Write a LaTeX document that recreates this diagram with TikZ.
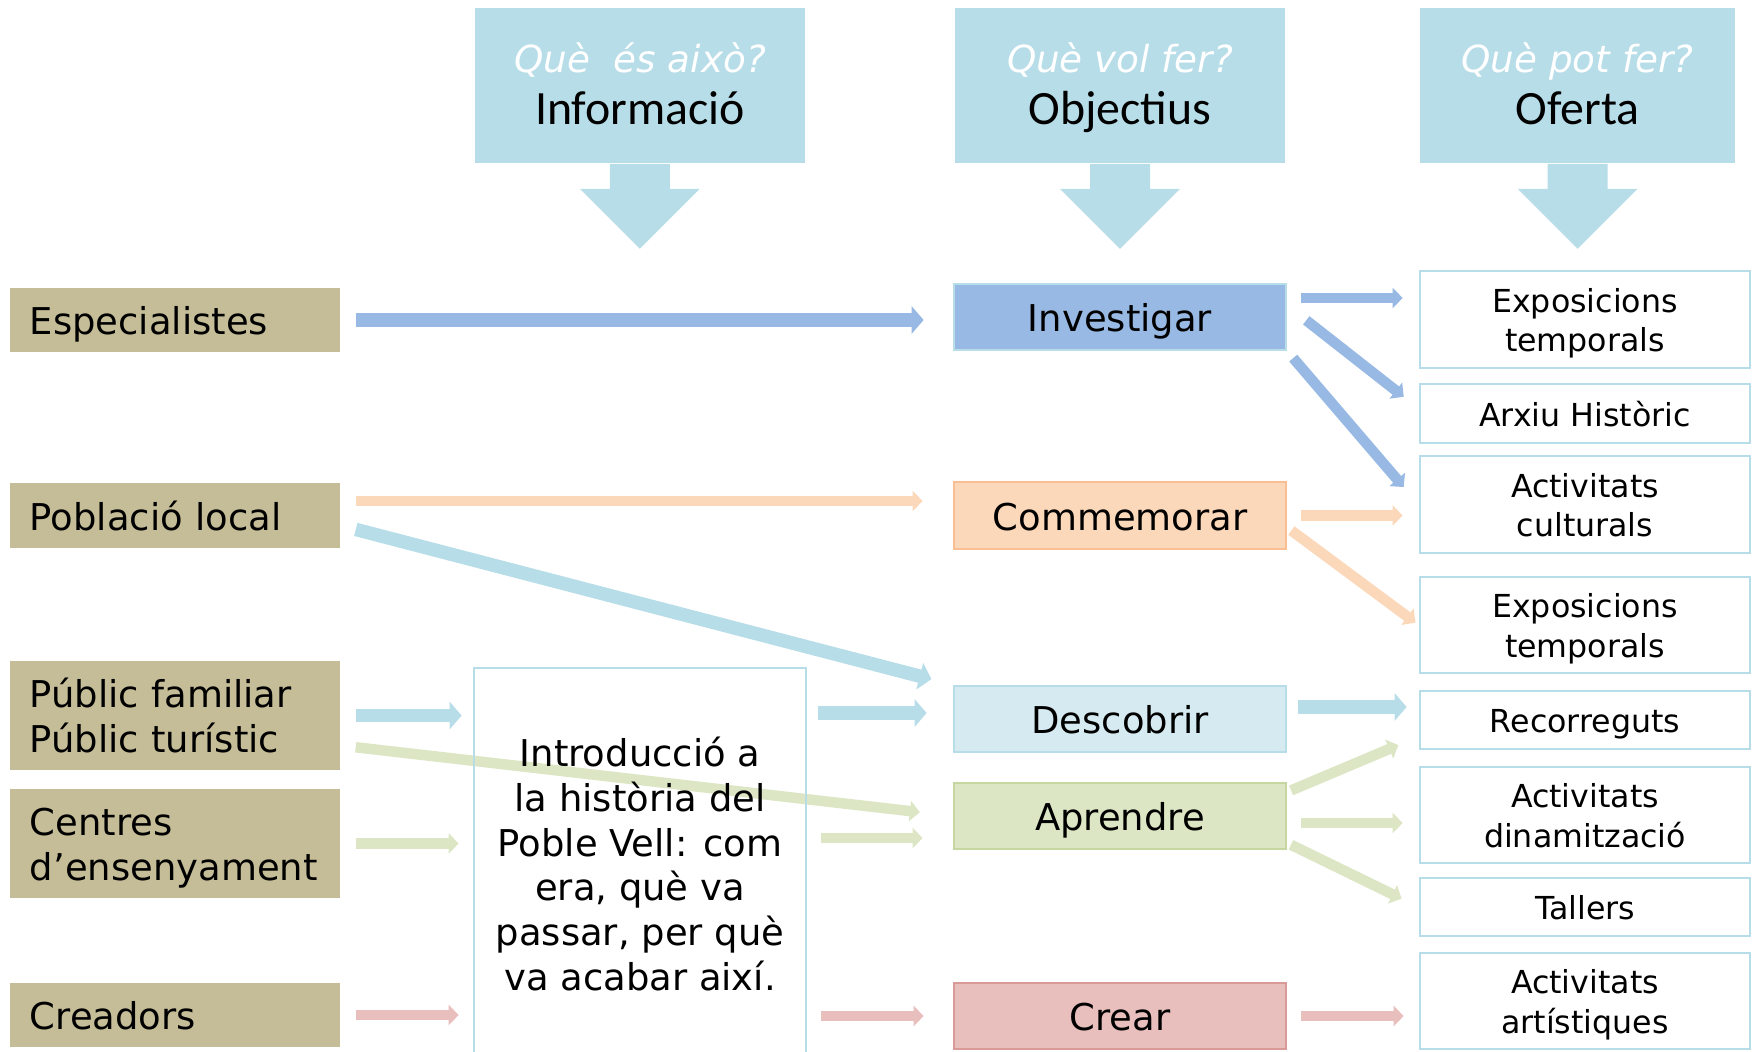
\documentclass[tikz,border=0pt]{standalone}
\usepackage{fontspec}
\setmainfont{DejaVu Sans}
\newfontfamily\calibrifont{Carlito}
\usetikzlibrary{arrows.meta,backgrounds}

\definecolor{hdrblue}{HTML}{B7DDE8}
\definecolor{whofill}{HTML}{C4BD97}
\definecolor{investfill}{HTML}{98B9E3}
\definecolor{commemfill}{HTML}{FCD8BA}
\definecolor{commemline}{HTML}{F9BE91}
\definecolor{descobfill}{HTML}{D5EBF1}
\definecolor{aprenfill}{HTML}{DCE6C4}
\definecolor{aprenline}{HTML}{C6D89F}
\definecolor{crearfill}{HTML}{E8BFBD}
\definecolor{crearline}{HTML}{DA9A98}
\definecolor{arrblue}{HTML}{98B9E3}
\definecolor{arrpeach}{HTML}{FCD8BA}
\definecolor{arrsky}{HTML}{B7DDE8}
\definecolor{arrgreen}{HTML}{DCE6C4}
\definecolor{arrpink}{HTML}{E8BFBD}

\newcommand{\boxfont}{\fontsize{10.5}{12.7}\selectfont}
\newcommand{\offerfont}{\fontsize{9}{11.2}\selectfont}
\newcommand{\askfont}{\rmfamily\itshape\fontsize{10.6}{15}\selectfont}
\newcommand{\headfont}{\calibrifont\fontsize{13.6}{15}\selectfont}
% struts so that every label sits at the same height in its box
\newcommand{\tup}{\rule{0pt}{1.05em}}
\newcommand{\tdown}{\rule[-0.25em]{0pt}{0.25em}}
\newcommand{\hup}{\rule{0pt}{10.5pt}}
\newcommand{\hdown}{\rule[-3.1pt]{0pt}{3.1pt}}

\tikzstyle{head} = [fill=hdrblue,minimum width=3.3cm,minimum height=1.55cm,inner ysep=0pt,align=center,font=\headfont,
	execute at end node=\hdown]
\tikzstyle{who} = [fill=whofill,text width=2.9cm,inner xsep=0.2cm,inner ysep=0pt,align=left,font=\boxfont,
	execute at begin node=\tup,execute at end node=\tdown]
\tikzstyle{aim} = [draw,line width=0.025cm,minimum width=3.32cm,minimum height=0.66cm,inner ysep=0pt,font=\boxfont,
	execute at begin node=\tup,execute at end node=\tdown]
\tikzstyle{offer} = [draw=hdrblue,line width=0.025cm,minimum width=3.3cm,inner ysep=0pt,align=center,font=\offerfont,
	execute at begin node=\tup,execute at end node=\tdown]
\tikzstyle{fat} = [line width=0.135cm,-{Triangle[width=0.27cm,length=0.12cm]}]
\tikzstyle{slim} = [line width=0.105cm,-{Triangle[width=0.2cm,length=0.1cm]}]

\begin{document}
\begin{tikzpicture}[x=0.01cm,y=-0.01cm]

	\useasboundingbox (0,0) rectangle (1755,1051);

	% headers
	\node (info) [head] at (640,85.5) {\hup{\askfont\color{white}Què\ \ és això?}\\Informació};
	\node (aims) [head] at (1120,85.5) {\hup{\askfont\color{white}Què vol fer?}\\Objectius};
	\node (offer) [head,minimum width=3.15cm] at (1577.5,85.5) {\hup{\askfont\color{white}Què pot fer?}\\Oferta};
	\foreach \h in {info,aims,offer}
		\fill[hdrblue] ([xshift=-0.3cm]\h.south) -- ++(0,25) -- ++(-30,0) -- ++(60,60) -- ++(60,-60) -- ++(-30,0) -- ++(0,-25) -- cycle;

	% who
	\node (espec) [who,minimum height=0.64cm] at (175,320) {Especialistes};
	\node (pobl) [who,minimum height=0.65cm] at (175,515.5) {Població local};
	\node (public) [who,minimum height=1.09cm] at (175,715.5) {\tup Públic familiar\\Públic turístic};
	\node (centres) [who,minimum height=1.09cm] at (175,843.5) {\tup Centres\\d’ensenyament};
	\node (creadors) [who,minimum height=0.64cm] at (175,1015) {Creadors};

	\node (intro) [draw=hdrblue,line width=0.025cm,minimum width=3.32cm,minimum height=3.92cm,align=center,font=\boxfont] at (640,864)
		{Introducció a\\la història del\\Poble Vell: com\\era, què va\\passar, per què\\va acabar així.};

	% aims
	\node (invest) [aim,draw=hdrblue,fill=investfill] at (1120,317) {Investigar};
	\node (commem) [aim,draw=commemline,fill=commemfill,minimum height=0.67cm] at (1120,515.5) {Commemorar};
	\node (descob) [aim,draw=hdrblue,fill=descobfill] at (1120,719) {Descobrir};
	\node (aprendre) [aim,draw=aprenline,fill=aprenfill] at (1120,816) {Aprendre};
	\node (crear) [aim,draw=crearline,fill=crearfill] at (1120,1016) {Crear};

	% offer
	\node (expo1) [offer,minimum height=0.97cm] at (1585,319.5) {\tup Exposicions\\temporals};
	\node (arxiu) [offer,minimum height=0.59cm] at (1585,413.5) {Arxiu Històric};
	\node (actcult) [offer,minimum height=0.97cm] at (1585,504.5) {\tup Activitats\\culturals};
	\node (expo2) [offer,minimum height=0.96cm] at (1585,625) {\tup Exposicions\\temporals};
	\node (recorr) [offer,minimum height=0.58cm] at (1585,720) {Recorreguts};
	\node (actdin) [offer,minimum height=0.96cm] at (1585,815) {\tup Activitats\\dinamització};
	\node (tallers) [offer,minimum height=0.58cm] at (1585,907) {Tallers};
	\node (actart) [offer,minimum height=0.96cm] at (1585,1001) {\tup Activitats\\artístiques};

	\begin{pgfonlayer}{background}
	\path
		(espec.east) edge[fat,arrblue,shorten <=0.15cm,shorten >=0.29cm] (espec.east -| invest.west)
		([yshift=0.145cm]pobl.east) edge[slim,arrpeach,shorten <=0.15cm,shorten >=0.3cm] ([yshift=0.145cm]commem.west)
		([yshift=-0.1cm]pobl.east) edge[fat,arrsky,shorten <=0.155cm,shorten >=0.22cm] (descob.north west)

		(public.east) edge[fat,arrsky,shorten <=0.15cm,shorten >=0.11cm] (public.east -| intro.west)
		([yshift=-0.3cm]public.east) edge[slim,arrgreen,shorten <=0.15cm,shorten >=0.33cm] (aprendre.west)
		(centres.east) edge[slim,arrgreen,shorten <=0.15cm,shorten >=0.14cm] (centres.east -| intro.west)
		(creadors.east) edge[slim,arrpink,shorten <=0.15cm,shorten >=0.14cm] (creadors.east -| intro.west)

		([yshift=0.06cm]descob.west -| intro.east) edge[fat,arrsky,shorten <=0.11cm,shorten >=0.26cm] ([yshift=0.06cm]descob.west)
		([yshift=-0.22cm]aprendre.west -| intro.east) edge[slim,arrgreen,shorten <=0.14cm,shorten >=0.3cm] ([yshift=-0.22cm]aprendre.west)
		(crear.west -| intro.east) edge[slim,arrpink,shorten <=0.14cm,shorten >=0.29cm] (crear.west)

		([yshift=0.19cm]invest.east) edge[slim,arrblue,shorten <=0.14cm,shorten >=0.16cm] ([yshift=0.19cm]invest.east -| expo1.west)
		([yshift=0.115cm]invest.east) edge[slim,arrblue,shorten <=0.24cm,shorten >=0.19cm] ([yshift=0.05cm]arxiu.west)
		(invest.south east) edge[slim,arrblue,shorten <=0.09cm,shorten >=0.23cm] (actcult.west)
		(commem.east) edge[slim,arrpeach,shorten <=0.14cm,shorten >=0.16cm] (commem.east -| actcult.west)
		([yshift=-0.12cm]commem.east) edge[slim,arrpeach,shorten <=0.05cm,shorten >=0.04cm] (expo2.west)
		([yshift=0.12cm]descob.east) edge[fat,arrsky,shorten <=0.11cm,shorten >=0.12cm] ([yshift=0.12cm]descob.east -| recorr.west)
		([yshift=0.24cm]aprendre.east) edge[slim,arrgreen,shorten <=0.04cm,shorten >=0.22cm] ([yshift=-0.165cm]recorr.west)
		([yshift=-0.07cm]aprendre.east) edge[slim,arrgreen,shorten <=0.14cm,shorten >=0.16cm] ([yshift=-0.07cm]aprendre.east -| actdin.west)
		([yshift=-0.27cm]aprendre.east) edge[slim,arrgreen,shorten <=0.04cm,shorten >=0.19cm] (tallers.west)
		(crear.east) edge[slim,arrpink,shorten <=0.14cm,shorten >=0.15cm] (crear.east -| actart.west)
		;
	\end{pgfonlayer}

\end{tikzpicture}
\end{document}
